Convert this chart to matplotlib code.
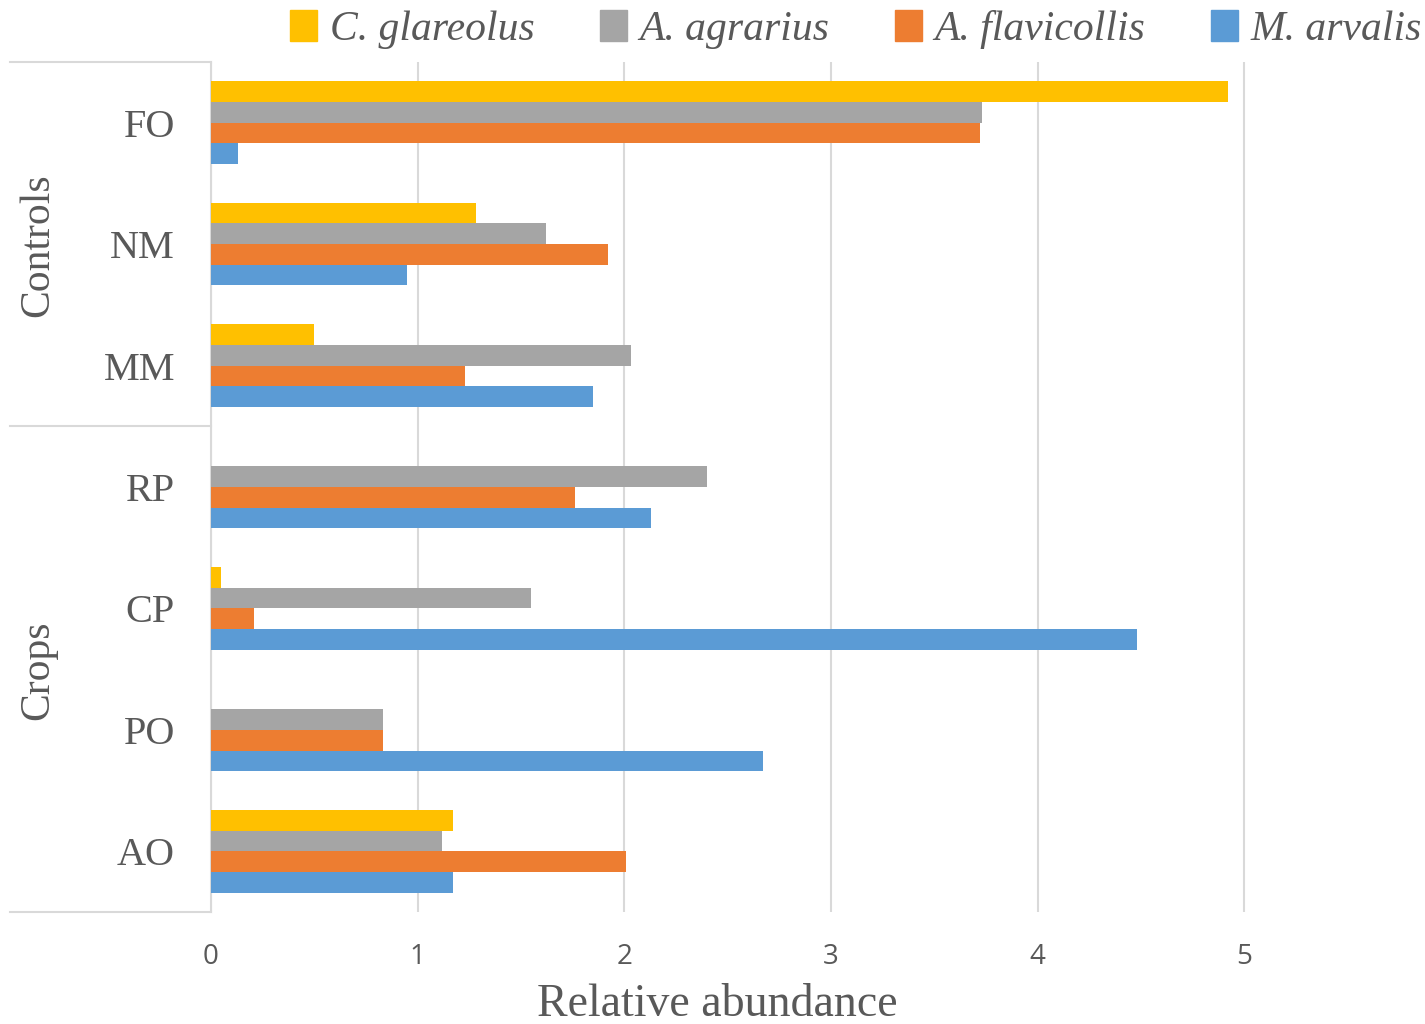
import numpy as np
import matplotlib
matplotlib.use("Agg")
import matplotlib.pyplot as plt
from matplotlib.patches import Patch

# data (bottom to top)
sites = ["AO", "PO", "CP", "RP", "MM", "NM", "FO"]
species = ["C. glareolus", "A. agrarius", "A. flavicollis", "M. arvalis"]
c_glareolus = [1.17, 0.0, 0.05, 0.0, 0.50, 1.28, 4.92]
a_agrarius = [1.12, 0.83, 1.55, 2.40, 2.03, 1.62, 3.73]
a_flavicollis = [2.01, 0.83, 0.21, 1.76, 1.23, 1.92, 3.72]
m_arvalis = [1.17, 2.67, 4.48, 2.13, 1.85, 0.95, 0.13]
groups = ["Crops", "Controls"]
xticks = [0, 1, 2, 3, 4, 5]

colors = ["#FFC000", "#A5A5A5", "#ED7D31", "#5B9BD5"]
txt = "#595959"
serif = "Liberation Serif"

fig = plt.figure(figsize=(14.25, 10.24), dpi=100)
ax = fig.add_axes([211/1425, 1-912/1024, 1209/1425, 850/1024])

y = np.arange(len(sites))
h = 0.17
series = [c_glareolus, a_agrarius, a_flavicollis, m_arvalis]
offs = [1.5, 0.5, -0.5, -1.5]
for vals, off, col, name in zip(series, offs, colors, species):
    ax.barh(y + off*h, vals, height=h, color=col, label=name, zorder=3)

ax.set_ylim(-0.5, 6.5)
ax.set_xlim(0, 5.85)
ax.set_xticks(xticks)
ax.set_xticklabels([str(t) for t in xticks], fontfamily="Open Sans", fontsize=20, color=txt)
ax.tick_params(axis="both", length=0)
ax.tick_params(axis="x", pad=22)
ax.set_yticks(y)
ax.set_yticklabels(sites, fontfamily=serif, fontsize=29, color=txt)
ax.tick_params(axis="y", pad=26)
ax.grid(axis="x", color="#D9D9D9", lw=1.5, zorder=0)
for s in ["top", "right", "bottom"]:
    ax.spines[s].set_visible(False)
ax.spines["left"].set_color("#D9D9D9")
ax.spines["left"].set_linewidth(1.5)

ax.set_xlabel("Relative abundance", fontfamily=serif, fontsize=33, color=txt)
ax.xaxis.set_label_coords((717-211)/1209, -(1005-912)/850, transform=ax.transAxes)
ax.xaxis.label.set_va("center")

# group separators and labels
trans = ax.get_yaxis_transform()
for yy in [-0.5, 3.5, 6.5]:
    ax.plot([-0.166, 0], [yy, yy], transform=trans, color="#D9D9D9", lw=1.5, clip_on=False)
ax.text(-0.143, 1.49, groups[0], transform=trans, rotation=90, ha="center", va="center",
        fontfamily=serif, fontsize=30, color=txt)
ax.text(-0.143, 4.99, groups[1], transform=trans, rotation=90, ha="center", va="center",
        fontfamily=serif, fontsize=30, color=txt)

handles = [Patch(color=c) for c in colors]
leg = fig.legend(handles, species, loc="upper right", bbox_to_anchor=(1.024, 1.027), ncol=4,
                 frameon=False, handlelength=0.65, handleheight=0.75, handletextpad=0.3,
                 columnspacing=1.57, prop={"family": serif, "style": "italic", "size": 30})
for t in leg.get_texts():
    t.set_color(txt)

fig.savefig("out.png", dpi=100)
